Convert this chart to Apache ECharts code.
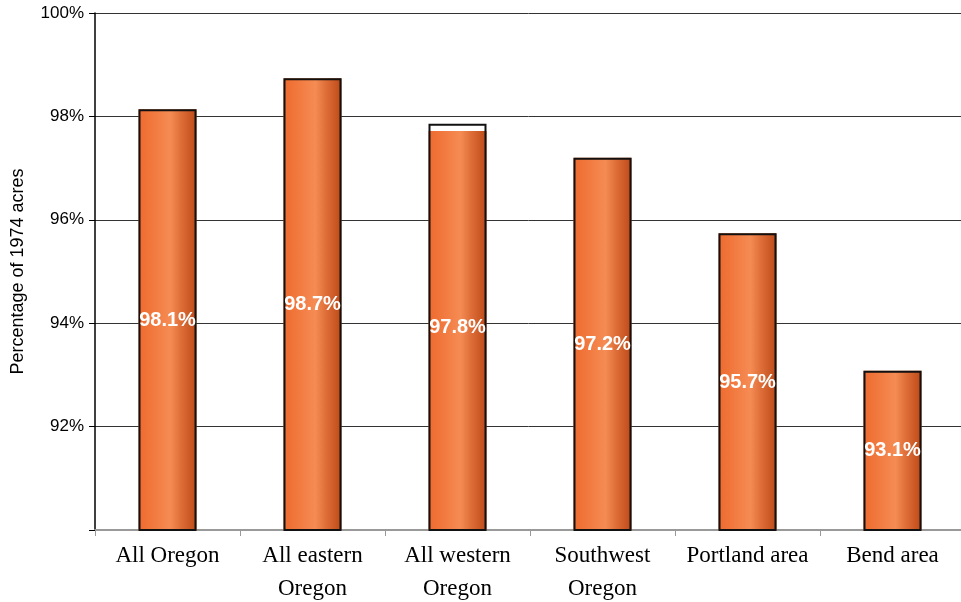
<!DOCTYPE html>
<html><head><meta charset="utf-8">
<script src="https://cdn.jsdelivr.net/npm/echarts@6/dist/echarts.min.js"></script>
<style>html,body{margin:0;padding:0;background:#fff}#c{width:961px;height:602px}</style>
</head><body><div id="c"></div>
<script>
var categories = ['All Oregon', 'All eastern\nOregon', 'All western\nOregon', 'Southwest\nOregon', 'Portland area', 'Bend area'];
var fillValues = [98.14, 98.74, 97.72, 97.2, 95.74, 93.08];
var outlineValues = [98.14, 98.74, 97.86, 97.2, 95.74, 93.08];
var labelValues = ['98.1%', '98.7%', '97.8%', '97.2%', '95.7%', '93.1%'];
var yTicks = [90, 92, 94, 96, 98, 100];

var chart = echarts.init(document.getElementById('c'));
var grad = new echarts.graphic.LinearGradient(0, 0, 1, 0, [
  {offset: 0, color: '#EE6A2E'},
  {offset: 0.3, color: '#F27C42'},
  {offset: 0.55, color: '#F58C54'},
  {offset: 0.75, color: '#DC6B36'},
  {offset: 1, color: '#BB4A18'}
]);
chart.setOption({
  animation: false,
  grid: {left: 95, right: -4, top: 13, bottom: 72, containLabel: false, outerBoundsMode: 'none'},
  xAxis: {
    type: 'category', data: categories,
    axisLine: {lineStyle: {color: '#999', width: 2}},
    axisTick: {show: true, lineStyle: {color: '#999'}, length: 6},
    axisLabel: {interval: 0, fontFamily: 'Liberation Serif', fontSize: 23, color: '#000', lineHeight: 33, margin: 9}
  },
  yAxis: {
    type: 'value', min: 90, max: 100, interval: 2,
    name: 'Percentage of 1974 acres', nameLocation: 'middle', nameGap: 68,
    nameTextStyle: {fontFamily: 'Liberation Sans', fontSize: 18, color: '#000'},
    axisLine: {show: true, lineStyle: {color: '#000', width: 1.5}},
    axisTick: {show: true, lineStyle: {color: '#000'}, length: 6},
    axisLabel: {fontFamily: 'Liberation Sans', fontSize: 17, color: '#000', margin: 11,
      formatter: function (v) { return yTicks.indexOf(v) > 0 ? v + '%' : ''; }},
    splitLine: {show: true, lineStyle: {color: '#333', width: 1}}
  },
  series: [
    {
      type: 'bar', data: fillValues, barWidth: '40%', barGap: '-100%', z: 2,
      itemStyle: {color: grad}
    },
    {
      type: 'bar', data: outlineValues, barWidth: '40%', barGap: '-100%', z: 3,
      itemStyle: {color: 'rgba(0,0,0,0)', borderColor: '#111', borderWidth: 2},
      label: {show: true, position: 'inside', color: '#fff', fontFamily: 'Liberation Sans', fontWeight: 'bold', fontSize: 20,
        formatter: function (p) { return labelValues[p.dataIndex]; }}
    }
  ]
});
</script></body></html>
